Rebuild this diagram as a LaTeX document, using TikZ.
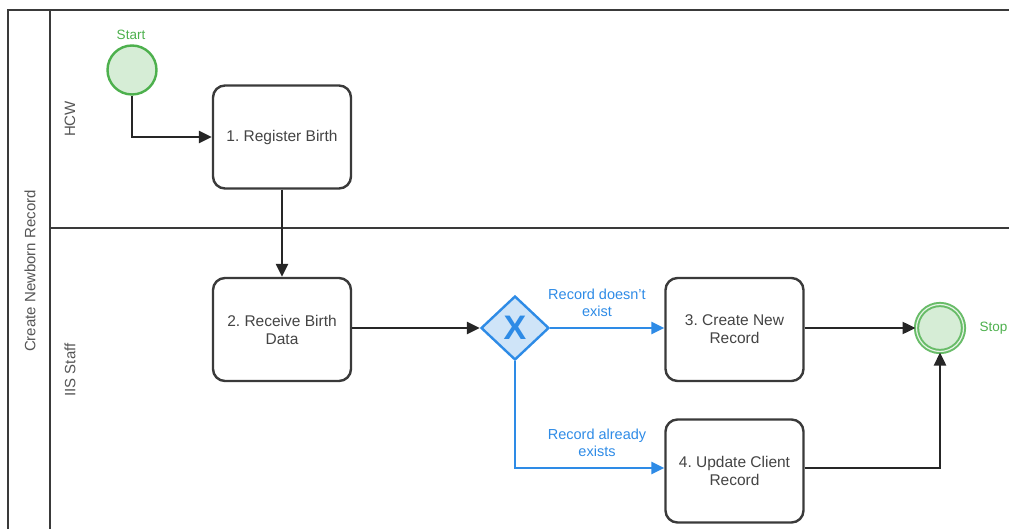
\documentclass[tikz,border=0pt]{standalone}
\usepackage{fontspec}
\setmainfont{Liberation Sans}
\usetikzlibrary{shapes.geometric,arrows.meta}
\definecolor{poolline}{HTML}{3A3A3A}
\definecolor{txt}{HTML}{444444}
\definecolor{lanetxt}{HTML}{555555}
\definecolor{evgreen}{HTML}{4DB04D}
\definecolor{evfill}{HTML}{D6EDD6}
\definecolor{flowblue}{HTML}{2E8BE6}
\definecolor{gwfill}{HTML}{CFE4F8}
\frenchspacing
\begin{document}
\begin{tikzpicture}[x=1pt,y=-1pt,
  pool/.style={draw=poolline, line width=2.2pt},
  lanelabel/.style={rotate=90, text=lanetxt, font=\fontsize{15}{18}\selectfont},
  task/.style={draw=poolline, line width=2.4pt, rounded corners=12pt, minimum width=138pt, minimum height=103pt, align=center, text=txt, font=\fontsize{15.5}{18}\selectfont, fill=white},
  flow/.style={draw=black!85, line width=2.4pt, -{Triangle[length=13pt,width=12pt]}},
  bflow/.style={draw=flowblue, line width=2.4pt, -{Triangle[length=13pt,width=12pt]}},
  flowlabel/.style={text=flowblue, align=center, font=\fontsize{14.5}{17}\selectfont},
  evlabel/.style={text=evgreen, font=\fontsize{13.5}{16}\selectfont},
  startev/.style={circle, draw=evgreen, line width=2.4pt, fill=evfill, minimum size=49pt, inner sep=0pt},
  stopev/.style={circle, draw=evgreen!85, line width=2pt, double=evfill!60!white, double distance=1.2pt, fill=evfill, minimum size=47pt, inner sep=0pt},
  gateway/.style={diamond, draw=flowblue, line width=2.4pt, fill=gwfill, minimum width=68pt, minimum height=64pt, inner sep=0pt, text=flowblue, font=\fontsize{34}{34}\selectfont\bfseries}
]
\useasboundingbox (0,0) rectangle (1009,529);
% pool and lanes
\draw[pool] (1009,10) -- (8,10) -- (8,529);
\draw[pool] (50,10) -- (50,529);
\draw[pool] (50,228) -- (1009,228);
\node[lanelabel] (poolname) at (30,271) {Create Newborn Record};
\node[lanelabel] (hcw) at (70,119) {HCW};
\node[lanelabel] (iis) at (70,370) {IIS Staff};
% events
\node[startev] (start) at (132,70) {};
\node[evlabel] (startlbl) at (131,35) {Start};
\node[stopev] (stop) at (940,328) {};
\node[evlabel, anchor=west] (stoplbl) at (976,328) {Stop};
% tasks
\node[task] (t1) at (282,137) {1. Register Birth};
\node[task] (t2) at (282,329.5) {2. Receive Birth\\Data};
\node[task] (t3) at (734.5,329.5) {3. Create New\\Record};
\node[task] (t4) at (734.5,471) {4. Update Client\\Record};
% gateway
\node[gateway] (gw) at (515,328) {X};
% flows
\draw[flow] (start.south) |- (t1.west);
\draw[flow] (t1.south) -- (t2.north);
\draw[flow] (t2.east |- gw.west) -- (gw.west);
\draw[bflow] (gw.east) -- (t3.west |- gw.east);
\draw[bflow] (gw.south) |- (t4.west |- 0,468);
\draw[flow] (t3.east |- stop.west) -- (stop.west);
\draw[flow] (t4.east |- 0,468) -| (stop.south);
% flow labels
\node[flowlabel] (lbl1) at (597,303) {Record doesn't\\exist};
\node[flowlabel] (lbl2) at (597,443) {Record already\\exists};
\end{tikzpicture}
\end{document}
